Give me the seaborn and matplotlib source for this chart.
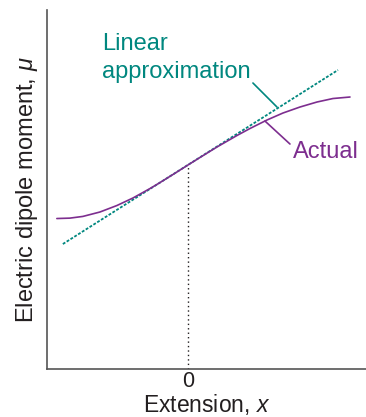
import numpy as np
import pandas as pd
import seaborn as sns
import matplotlib.pyplot as plt

# values (x: extension, y: dipole moment, arbitrary units)
actual_x = [-1.31, -1.18, -1.05, -0.88, -0.71, -0.55, -0.38, -0.28, -0.15, 0.00,
            0.12, 0.29, 0.49, 0.62, 0.79, 0.95, 1.12, 1.29, 1.45, 1.62]
actual_y = [1.505, 1.509, 1.526, 1.570, 1.635, 1.710, 1.804, 1.864, 1.945, 2.040,
            2.115, 2.220, 2.335, 2.405, 2.490, 2.560, 2.620, 2.670, 2.705, 2.720]
linear_x = [-1.25, 1.50]
linear_y = [1.25, 2.99]
x_ticks = [0]
x_ticklabels = ["0"]

purple = "#7D2E8F"
teal = "#00877F"
dark = "#231F20"

sns.set_style("white")
plt.rcParams["font.family"] = ["Liberation Sans", "DejaVu Sans"]
plt.rcParams["mathtext.fontset"] = "custom"
plt.rcParams["mathtext.rm"] = "Liberation Sans"
plt.rcParams["mathtext.it"] = "Liberation Sans:italic"

actual_df = pd.DataFrame({"x": actual_x, "y": actual_y})
linear_df = pd.DataFrame({"x": linear_x, "y": linear_y})

fig = plt.figure(figsize=(3.66, 4.17), dpi=100)
ax = fig.add_axes([0.128, 0.115, 0.872, 0.861])

sns.lineplot(data=linear_df, x="x", y="y", ax=ax, color=teal, lw=1.3,
             linestyle=(0, (1.6, 0.9)))
sns.lineplot(data=actual_df, x="x", y="y", ax=ax, color=purple, lw=1.2,
             sort=False, solid_joinstyle="round")

# dotted drop line from the point x = 0
y0 = actual_y[actual_x.index(0.00)]
ax.plot([0, 0], [0, y0], color=dark, lw=1.0, linestyle=(0, (1, 2.2)))

ax.set_xlim(-1.41, 1.78)
ax.set_ylim(0, 3.59)

ax.set_xticks(x_ticks)
ax.set_xticklabels(x_ticklabels, fontsize=15.5, color=dark)
ax.set_yticks([])
ax.tick_params(axis="x", length=0, pad=1.5)

ax.set_xlabel("Extension, $\\it{x}$", fontsize=16.5, color=dark, labelpad=0)
ax.set_ylabel("Electric dipole moment, $\\it{\\mu}$", fontsize=17, color=dark,
              labelpad=5)

for side in ["top", "right"]:
    ax.spines[side].set_visible(False)
for side in ["left", "bottom"]:
    ax.spines[side].set_color("#555555")
    ax.spines[side].set_linewidth(1.2)

# labels with leader lines
ax.text(-0.86, 3.19, "Linear", fontsize=17, color=teal, va="baseline")
ax.text(-0.86, 2.91, "approximation", fontsize=17, color=teal, va="baseline")
ax.annotate("", xy=(0.89, 2.62), xytext=(0.65, 2.86),
            arrowprops=dict(arrowstyle="-", color=teal, lw=1.2,
                            shrinkA=0, shrinkB=0))
ax.text(1.05, 2.11, "Actual", fontsize=17, color=purple, va="baseline")
ax.annotate("", xy=(0.77, 2.48), xytext=(1.02, 2.25),
            arrowprops=dict(arrowstyle="-", color=purple, lw=1.2,
                            shrinkA=0, shrinkB=0))

plt.savefig("out.png", dpi=100)
